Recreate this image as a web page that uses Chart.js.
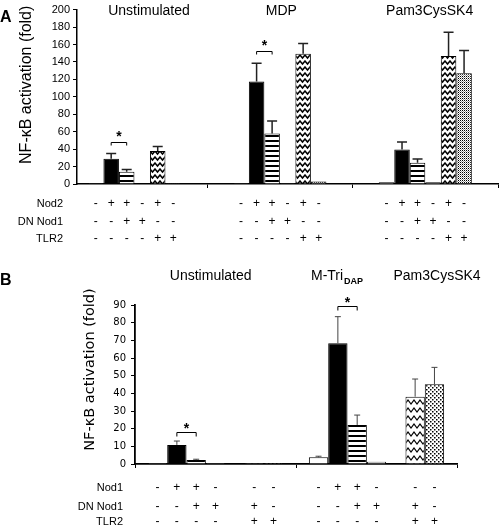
<!DOCTYPE html>
<html>
<head>
<meta charset="utf-8">
<script src="https://cdn.jsdelivr.net/npm/chart.js@4.4.1/dist/chart.umd.min.js"></script>
<style>
  body { margin: 0; background: #fff; width: 500px; height: 527px; overflow: hidden; position: relative; }
  #wrapA { position: absolute; left: 0; top: 0; width: 500px; height: 250px; }
  #wrapB { position: absolute; left: 0; top: 255px; width: 500px; height: 272px; }
</style>
</head>
<body>
<div id="wrapA"><canvas id="chartA" width="500" height="250"></canvas></div>
<div id="wrapB"><canvas id="chartB" width="500" height="272"></canvas></div>
<script>
// ---- panel A data (fold activation), one value per stimulus group ----
const groupsA = ['Unstimulated', 'MDP', 'Pam3CysSK4'];
const ctrlA = [1, 1, 2];
const nod2A = [29, 117.5, 39.7];
const nod2DnA = [14, 58, 24.5];
const dnA = [0.5, 1, 2];
const nod2TlrA = [37.8, 149.3, 146.7];
const tlrA = [1, 3, 127];
const nod2ErrA = [6, 21, 8.6];
const nod2DnErrA = [2.7, 14.2, 4.2];
const nod2TlrErrA = [5.2, 11.8, 27.3];
const tlrErrA = [0, 0, 26];
const rowNamesA = ['Nod2', 'DN Nod1', 'TLR2'];
const rowsA = [
  ['-', '+', '+', '-', '+', '-'],
  ['-', '-', '+', '+', '-', '-'],
  ['-', '-', '-', '-', '+', '+']
];
const sigA = [[0, 48], [1, 152]];

// ---- panel B data ----
const groupsB = ['Unstimulated', 'M-TriDAP'];
const titlesB = ['Unstimulated', 'M-Tri', 'Pam3CysSK4'];
const titleSubB = ['', 'DAP', ''];
const ctrlB = [0.5, 3.8];
const nod1B = [10.8, 68.3];
const nod1DnB = [2.2, 22.1];
const dnB = [0.5, 1.3];
const dnTlrB = [0.6, 38.1];
const tlrB = [0.6, 45.1];
const ctrlErrB = [0, 0.6];
const nod1ErrB = [2.2, 15.1];
const nod1DnErrB = [0.5, 5.6];
const dnTlrErrB = [0, 10];
const tlrErrB = [0, 9.6];
const rowNamesB = ['Nod1', 'DN Nod1', 'TLR2'];
const rowsB = [
  ['-', '+', '+', '-', null, '-', '-'],
  ['-', '-', '+', '+', null, '+', '-'],
  ['-', '-', '-', '-', null, '+', '+']
];
const sigB = [[0, 18], [1, 89.7]];

const ARIAL = '"Liberation Sans", Arial, sans-serif';
const DEJAVU = '"DejaVu Sans", Verdana, sans-serif';

function makePattern(w, h, draw) {
  const c = document.createElement('canvas');
  c.width = w; c.height = h;
  const g = c.getContext('2d');
  g.fillStyle = '#fff';
  g.fillRect(0, 0, w, h);
  g.fillStyle = '#000';
  g.strokeStyle = '#000';
  draw(g, w, h);
  return g.createPattern(c, 'repeat');
}
const stripes = (g, w) => g.fillRect(0, 0, w, 2);
function zigzag(g, w, h) {
  g.lineWidth = w < 6 ? 1.5 : 1.2;
  g.beginPath();
  g.moveTo(-w / 2, h / 2 + 1);
  g.lineTo(0, 1);
  g.lineTo(w / 2, h / 2 + 1);
  g.lineTo(w, 1);
  g.lineTo(w * 1.5, h / 2 + 1);
  g.stroke();
}

const extras = {
  id: 'extras',
  afterDatasetsDraw(chart, args, o) {
    const ctx = chart.ctx, x = chart.scales.x, y = chart.scales.y, area = chart.chartArea;
    ctx.save();
    // error bars (upper only)
    chart.data.datasets.forEach((ds, i) => {
      if (!ds.err) return;
      const meta = chart.getDatasetMeta(i);
      meta.data.forEach((bar, j) => {
        const e = ds.err[j];
        if (!e) return;
        const top = y.getPixelForValue(meta.controller.getParsed(j).y + e);
        ctx.strokeStyle = o.errColor;
        ctx.lineWidth = o.errWidth;
        ctx.beginPath();
        ctx.moveTo(bar.x, bar.y);
        ctx.lineTo(bar.x, top);
        ctx.moveTo(bar.x - o.cap, top);
        ctx.lineTo(bar.x + o.cap, top);
        ctx.stroke();
      });
    });
    // significance brackets
    ctx.strokeStyle = '#000';
    ctx.fillStyle = '#000';
    ctx.lineWidth = 1;
    o.sig.forEach(([g, lvl]) => {
      const a = chart.getDatasetMeta(1).data[g];
      const b = chart.getDatasetMeta(2).data[g];
      const yy = Math.round(y.getPixelForValue(lvl)) + 0.5;
      ctx.beginPath();
      ctx.moveTo(a.x, yy + o.leg);
      ctx.lineTo(a.x, yy);
      ctx.lineTo(b.x, yy);
      ctx.lineTo(b.x, yy + o.leg);
      ctx.stroke();
      ctx.font = 'bold 14px ' + ARIAL;
      ctx.textAlign = 'center';
      ctx.textBaseline = 'alphabetic';
      ctx.fillText('*', (a.x + b.x) / 2, yy - o.starGap + 8);
    });
    // group titles
    ctx.textBaseline = 'alphabetic';
    o.titles.forEach((t, i) => {
      const cx = x.getPixelForValue(o.titleAt[i]);
      const sub = o.titleSub ? o.titleSub[i] : '';
      ctx.font = '14px ' + ARIAL;
      const w1 = ctx.measureText(t).width;
      ctx.font = 'bold 9px ' + ARIAL;
      const w2 = sub ? ctx.measureText(sub).width + 1 : 0;
      const x0 = cx - (w1 + w2) / 2;
      ctx.textAlign = 'left';
      ctx.font = '14px ' + ARIAL;
      ctx.fillText(t, x0, o.titleY);
      if (sub) {
        ctx.font = 'bold 9px ' + ARIAL;
        ctx.fillText(sub, x0 + w1 + 1, o.titleY + 4);
      }
    });
    // +/- table
    ctx.textBaseline = 'middle';
    o.rows.forEach((row, r) => {
      const yy = area.bottom + o.rowY[r];
      ctx.font = '11px ' + ARIAL;
      ctx.textAlign = 'right';
      ctx.fillText(o.rowNames[r], area.left - o.rowGap, yy);
      ctx.font = '12px ' + ARIAL;
      ctx.textAlign = 'center';
      row.forEach((s, k) => {
        if (!s) return;
        chart.getDatasetMeta(k).data.forEach(bar => ctx.fillText(s, bar.x, yy));
      });
    });
    // y axis title
    ctx.save();
    ctx.translate(area.left - o.yTitleGap, (area.top + area.bottom) / 2 + o.yTitleShift);
    ctx.rotate(-Math.PI / 2);
    ctx.font = o.yTitleFont;
    ctx.textAlign = 'center';
    ctx.fillText('NF-\u03baB activation (fold)', 0, 0);
    ctx.restore();
    // panel letter
    ctx.font = 'bold 16px ' + ARIAL;
    ctx.textAlign = 'left';
    ctx.textBaseline = 'alphabetic';
    ctx.fillText(o.letter, 0, o.letterY);
    ctx.restore();
  }
};

// ---- panel A ----
const seriesA = [
  { vals: ctrlA, err: null, fill: '#fff' },
  { vals: nod2A, err: nod2ErrA, fill: '#000' },
  { vals: nod2DnA, err: nod2DnErrA, fill: makePattern(4, 5, stripes) },
  { vals: dnA, err: null, fill: '#fff' },
  { vals: nod2TlrA, err: nod2TlrErrA, fill: makePattern(5, 6, zigzag) },
  { vals: tlrA, err: tlrErrA, fill: makePattern(2, 2, g => { g.fillRect(0, 0, 1, 1); g.fillStyle = '#999'; g.fillRect(1, 1, 1, 1); }) }
];

new Chart(document.getElementById('chartA'), {
  type: 'bar',
  data: {
    datasets: seriesA.map(s => ({
      data: s.vals.map((v, g) => ({ x: g, y: v })),
      err: s.err,
      backgroundColor: s.fill,
      borderColor: '#000',
      borderWidth: 1
    }))
  },
  options: {
    responsive: false,
    animation: false,
    devicePixelRatio: 1,
    layout: { padding: { left: 0, top: 8, right: 2, bottom: 62 } },
    datasets: { bar: { categoryPercentage: 0.64, barPercentage: 1 } },
    scales: {
      x: {
        type: 'linear',
        min: -0.395,
        max: 2.5,
        offset: false,
        afterBuildTicks: s => { s.ticks = [0.5, 1.5, 2.5].map(v => ({ value: v })); },
        afterFit: s => { s.height = 4; },
        ticks: { display: false },
        grid: { offset: false, drawOnChartArea: false, tickLength: 4, color: '#000' },
        border: { color: '#000', width: 1.5 }
      },
      y: {
        min: 0,
        max: 200,
        afterFit: s => { s.width = 77; },
        ticks: { stepSize: 20, color: '#000', padding: 3, font: { family: ARIAL, size: 11 } },
        grid: { drawOnChartArea: false, tickLength: 4, color: '#000' },
        border: { color: '#000', width: 1.5 }
      }
    },
    plugins: {
      legend: { display: false },
      tooltip: { enabled: false },
      extras: {
        errColor: '#222', errWidth: 1.5, cap: 5, leg: 3, starGap: 10,
        sig: sigA,
        titles: groupsA, titleAt: [0.1, 1.01, 2.03], titleY: 15,
        rows: rowsA, rowNames: rowNamesA, rowY: [20, 38, 55], rowGap: 14,
        yTitleGap: 50, yTitleShift: -12, yTitleFont: '16px ' + ARIAL,
        letter: 'A', letterY: 22
      }
    }
  },
  plugins: [extras]
});

// ---- panel B ----
const seriesB = [
  { vals: ctrlB, err: ctrlErrB, fill: '#fff' },
  { vals: nod1B, err: nod1ErrB, fill: '#000' },
  { vals: nod1DnB, err: nod1DnErrB, fill: makePattern(4, 5, stripes) },
  { vals: dnB, err: null, fill: '#fff' },
  { vals: [null, null], err: null, fill: '#fff' },
  { vals: dnTlrB, err: dnTlrErrB, fill: makePattern(6, 8, zigzag) },
  { vals: tlrB, err: tlrErrB, fill: makePattern(4, 4, g => { g.fillRect(0, 0, 1.5, 1.5); g.fillRect(2, 2, 1.5, 1.5); }) }
];

new Chart(document.getElementById('chartB'), {
  type: 'bar',
  data: {
    labels: groupsB,
    datasets: seriesB.map(s => ({
      data: s.vals,
      err: s.err,
      backgroundColor: s.fill,
      borderColor: '#000',
      borderWidth: 1
    }))
  },
  options: {
    responsive: false,
    animation: false,
    devicePixelRatio: 1,
    layout: { padding: { left: 0, top: 50, right: 43, bottom: 59 } },
    datasets: { bar: { categoryPercentage: 0.84, barPercentage: 1 } },
    scales: {
      x: {
        afterFit: s => { s.height = 4; },
        ticks: { display: false },
        grid: { drawOnChartArea: false, tickLength: 4, color: '#000' },
        border: { color: '#000', width: 1.8 }
      },
      y: {
        min: 0,
        max: 90,
        afterFit: s => { s.width = 135; },
        ticks: { stepSize: 10, color: '#000', padding: 5, font: { family: DEJAVU, size: 10 } },
        grid: { drawOnChartArea: false, tickLength: 4, color: '#000' },
        border: { color: '#000', width: 1.8 }
      }
    },
    plugins: {
      legend: { display: false },
      tooltip: { enabled: false },
      extras: {
        errColor: '#444', errWidth: 1, cap: 3, leg: 4, starGap: 8,
        sig: sigB,
        titles: titlesB, titleSub: titleSubB, titleAt: [-0.03, 0.755, 1.376], titleY: 25,
        rows: rowsB, rowNames: rowNamesB, rowY: [24, 43, 58], rowGap: 12,
        yTitleGap: 45, yTitleShift: -15, yTitleFont: '14.5px ' + DEJAVU,
        letter: 'B', letterY: 30
      }
    }
  },
  plugins: [extras]
});
</script>
</body>
</html>
